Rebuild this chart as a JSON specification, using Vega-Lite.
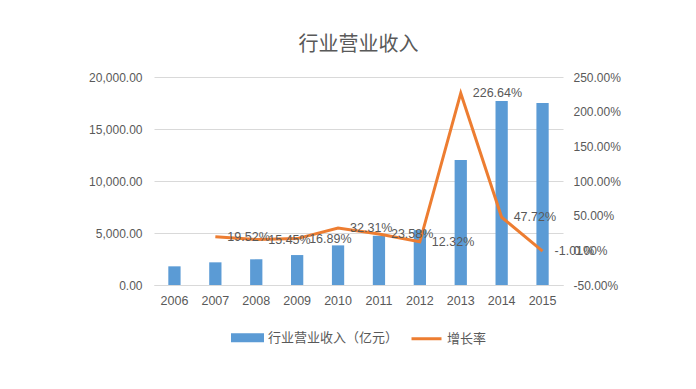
{
  "$schema": "https://vega.github.io/schema/vega-lite/v6.json",
  "autosize": {"type": "none"},
  "width": 409,
  "height": 208,
  "padding": {"left": 154, "top": 77, "right": 133, "bottom": 104},
  "background": "white",
  "title": {"text": "行业营业收入", "fontSize": 20, "fontWeight": "normal", "color": "#595959", "font": "Noto Sans CJK SC", "offset": 16},
  "config": {
    "view": {"stroke": null},
    "font": "Liberation Sans, Noto Sans CJK SC",
    "locale": {"number": {"decimal": ".", "thousands": ",", "grouping": [3], "currency": ["$", ""], "minus": "-"}},
    "legend": {"layout": {"bottom": {"anchor": "middle"}}},
    "axis": {"labelColor": "#595959", "labelFontSize": 12, "labelFont": "Liberation Sans", "ticks": false, "tickSize": 0, "title": null}
  },
  "data": {"values": [
    {"year": "2006", "revenue": 1795, "growth": null, "s1": "行业营业收入（亿元）", "s2": "增长率"},
    {"year": "2007", "revenue": 2180, "growth": 0.1952, "s1": "行业营业收入（亿元）", "s2": "增长率"},
    {"year": "2008", "revenue": 2470, "growth": 0.1545, "s1": "行业营业收入（亿元）", "s2": "增长率"},
    {"year": "2009", "revenue": 2880, "growth": 0.1689, "s1": "行业营业收入（亿元）", "s2": "增长率"},
    {"year": "2010", "revenue": 3810, "growth": 0.3231, "s1": "行业营业收入（亿元）", "s2": "增长率"},
    {"year": "2011", "revenue": 4735, "growth": 0.2358, "s1": "行业营业收入（亿元）", "s2": "增长率"},
    {"year": "2012", "revenue": 5280, "growth": 0.1232, "s1": "行业营业收入（亿元）", "s2": "增长率"},
    {"year": "2013", "revenue": 12030, "growth": 2.2664, "s1": "行业营业收入（亿元）", "s2": "增长率"},
    {"year": "2014", "revenue": 17700, "growth": 0.4772, "s1": "行业营业收入（亿元）", "s2": "增长率"},
    {"year": "2015", "revenue": 17500, "growth": -0.0101, "s1": "行业营业收入（亿元）", "s2": "增长率"}
  ]},
  "encoding": {
    "x": {"field": "year", "type": "ordinal", "scale": {"paddingInner": 0.7, "paddingOuter": 0.35},
      "axis": {"labelAngle": 0, "domainColor": "#D9D9D9", "labelPadding": 9, "labelFontSize": 12.5}}
  },
  "layer": [
    {
      "mark": {"type": "bar"},
      "encoding": {
        "y": {"field": "revenue", "type": "quantitative", "scale": {"domain": [0, 20000], "nice": false},
          "axis": {"format": ",.2f", "values": [0, 5000, 10000, 15000, 20000], "domain": false, "gridColor": "#D9D9D9", "labelPadding": 12}},
        "color": {"field": "s1", "type": "nominal",
          "scale": {"domain": ["行业营业收入（亿元）", "增长率"], "range": ["#5B9BD5", "#ED7D31"]},
          "legend": {"orient": "bottom", "title": null, "direction": "horizontal", "labelFontSize": 13, "labelColor": "#595959", "labelFont": "Noto Sans CJK SC", "symbolSize": 900, "columnPadding": 6, "labelOffset": 4, "offset": 14,
            "encode": {"symbols": {"update": {
              "shape": {"signal": "datum.value === '增长率' ? 'M-1,0H1' : 'M-1,-0.2H1V0.2H-1Z'"},
              "fill": {"signal": "datum.value === '增长率' ? 'transparent' : '#5B9BD5'"},
              "stroke": {"signal": "datum.value === '增长率' ? '#ED7D31' : 'transparent'"},
              "strokeWidth": {"value": 3}
            }}}}
        }
      }
    },
    {
      "encoding": {
        "y": {"field": "growth", "type": "quantitative", "scale": {"domain": [-0.5, 2.5], "nice": false},
          "axis": {"orient": "right", "format": ".2%", "values": [-0.5, 0, 0.5, 1, 1.5, 2, 2.5], "grid": false, "domain": false, "labelPadding": 10}}
      },
      "layer": [
        {
          "mark": {"type": "line", "strokeWidth": 3},
          "encoding": {"color": {"field": "s2", "type": "nominal"}}
        },
        {
          "mark": {"type": "text", "align": "left", "baseline": "middle", "dx": 12, "fontSize": 12.5, "color": "#595959"},
          "encoding": {"text": {"field": "growth", "type": "quantitative", "format": ".2%"}}
        }
      ]
    }
  ],
  "resolve": {"scale": {"y": "independent"}}
}
